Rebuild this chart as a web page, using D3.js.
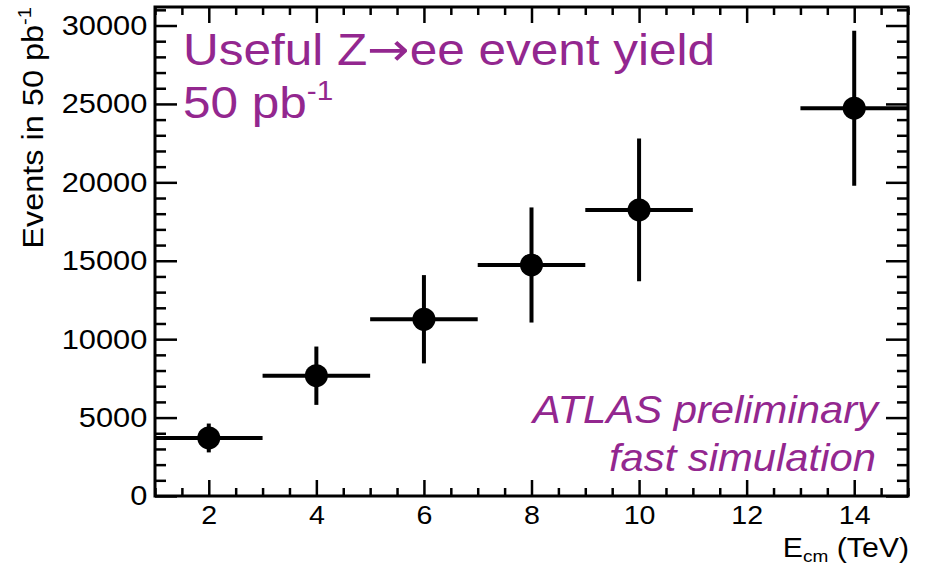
<!DOCTYPE html>
<html>
<head>
<meta charset="utf-8">
<script src="https://cdn.jsdelivr.net/npm/d3@7"></script>
<style>
  html, body { margin: 0; padding: 0; background: #fff; }
  svg { display: block; }
  text { font-family: "Liberation Sans", Arial, Helvetica, sans-serif; }
</style>
</head>
<body>
<svg id="chart" width="936" height="565"></svg>
<script>
// ---- data ----
const energies = [2, 4, 6, 8, 10, 14];            // E_cm (TeV)
const events   = [3700, 7670, 11270, 14730, 18240, 24730];
const errors   = [920, 1860, 2815, 3670, 4550, 4940];
const binHalfWidth = [1, 1, 1, 1, 1, 1];
const xMajorTicks = [2, 4, 6, 8, 10, 12, 14];
const yMajorTicks = [0, 5000, 10000, 15000, 20000, 25000, 30000];
const xDomain = [1, 15];
const yDomain = [0, 31180];

// ---- layout ----
const L = 155, R = 908, T = 7, B = 496;
const purple = "#93278f";
const SX = 1.1; // horizontal text stretch of the reference

const svg = d3.select("#chart");
const x = d3.scaleLinear().domain(xDomain).range([L, R]);
const y = d3.scaleLinear().domain(yDomain).range([B, T]);

const xMinor = d3.range(xDomain[0], xDomain[1] + 0.001, 0.5).filter(v => !xMajorTicks.includes(v));
const yMinor = d3.range(0, yDomain[1], 1000).filter(v => !yMajorTicks.includes(v));

function styleAxis(g) {
  g.select(".domain").remove();
  g.selectAll(".tick line").attr("stroke", "#000").attr("stroke-width", 2.5);
}

// bottom axis (labels + ticks pointing up)
svg.append("g").attr("transform", `translate(0,${B})`)
  .call(d3.axisBottom(x).tickValues(xMajorTicks).tickSize(-16).tickPadding(23).tickFormat(d3.format("d")))
  .call(styleAxis)
  .call(g => g.selectAll("text").attr("font-size", 26).attr("fill", "#000").attr("dy", "0.2em")
    .attr("transform", `scale(${SX},1)`));
svg.append("g").attr("transform", `translate(0,${B})`)
  .call(d3.axisBottom(x).tickValues(xMinor).tickSize(-8).tickFormat(""))
  .call(styleAxis);
// top axis
svg.append("g").attr("transform", `translate(0,${T})`)
  .call(d3.axisTop(x).tickValues(xMajorTicks).tickSize(-16).tickFormat(""))
  .call(styleAxis);
svg.append("g").attr("transform", `translate(0,${T})`)
  .call(d3.axisTop(x).tickValues(xMinor).tickSize(-8).tickFormat(""))
  .call(styleAxis);
// left axis
svg.append("g").attr("transform", `translate(${L},0)`)
  .call(d3.axisLeft(y).tickValues(yMajorTicks).tickSize(-22).tickPadding(7).tickFormat(d3.format("d")))
  .call(styleAxis)
  .call(g => g.selectAll("text").attr("font-size", 28).attr("fill", "#000")
    .attr("transform", `scale(${SX},1)`));
svg.append("g").attr("transform", `translate(${L},0)`)
  .call(d3.axisLeft(y).tickValues(yMinor).tickSize(-11).tickFormat(""))
  .call(styleAxis);
// right axis
svg.append("g").attr("transform", `translate(${R},0)`)
  .call(d3.axisRight(y).tickValues(yMajorTicks).tickSize(-22).tickFormat(""))
  .call(styleAxis);
svg.append("g").attr("transform", `translate(${R},0)`)
  .call(d3.axisRight(y).tickValues(yMinor).tickSize(-11).tickFormat(""))
  .call(styleAxis);

// frame
svg.append("rect").attr("x", L).attr("y", T).attr("width", R - L).attr("height", B - T)
  .attr("fill", "none").attr("stroke", "#000").attr("stroke-width", 3);

// ---- data points ----
const pts = energies.map((e, i) => ({ e, v: events[i], err: errors[i], hw: binHalfWidth[i] }));
const gp = svg.append("g");
gp.selectAll("line.h").data(pts).join("line").attr("class", "h")
  .attr("x1", d => x(Math.max(xDomain[0], d.e - d.hw)))
  .attr("x2", d => x(Math.min(xDomain[1], d.e + d.hw)))
  .attr("y1", d => y(d.v)).attr("y2", d => y(d.v))
  .attr("stroke", "#000").attr("stroke-width", 4);
gp.selectAll("line.v").data(pts).join("line").attr("class", "v")
  .attr("x1", d => x(d.e)).attr("x2", d => x(d.e))
  .attr("y1", d => y(d.v - d.err)).attr("y2", d => y(d.v + d.err))
  .attr("stroke", "#000").attr("stroke-width", 4);
gp.selectAll("circle").data(pts).join("circle")
  .attr("cx", d => x(d.e)).attr("cy", d => y(d.v)).attr("r", 11.5).attr("fill", "#000");

// ---- texts ----
const t1 = svg.append("text").attr("transform", `translate(183,65) scale(${SX},1)`).attr("font-size", 45).attr("fill", purple);
t1.append("tspan").text("Useful Z");
t1.append("tspan").attr("font-family", "DejaVu Sans").attr("font-size", 46).text("\u2192");
t1.append("tspan").text("ee event yield");
const t2 = svg.append("text").attr("transform", `translate(183,118) scale(${SX},1)`).attr("font-size", 45).attr("fill", purple);
t2.append("tspan").text("50 pb");
t2.append("tspan").attr("font-size", 27).attr("dy", -18).text("-1");

svg.append("text").attr("transform", `translate(878,423) scale(${SX},1)`).attr("font-size", 38).attr("font-style", "italic")
  .attr("text-anchor", "end").attr("fill", purple).text("ATLAS preliminary");
svg.append("text").attr("transform", `translate(876,471) scale(${SX},1)`).attr("font-size", 38).attr("font-style", "italic")
  .attr("text-anchor", "end").attr("fill", purple).text("fast simulation");

// x title
const xt = svg.append("text").attr("transform", "translate(909,557) scale(1.12,1)").attr("font-size", 27)
  .attr("text-anchor", "end").attr("fill", "#000");
xt.append("tspan").text("E");
xt.append("tspan").attr("font-size", 17).attr("dy", 5).text("cm");
xt.append("tspan").attr("dy", -5).text(" (TeV)");

// y title
const yt = svg.append("text").attr("transform", "translate(43,7) rotate(-90) scale(1.12,1)")
  .attr("font-size", 29).attr("text-anchor", "end").attr("fill", "#000");
yt.append("tspan").text("Events in 50 pb");
yt.append("tspan").attr("font-size", 18).attr("dy", -12).text("-1");
</script>
</body>
</html>
